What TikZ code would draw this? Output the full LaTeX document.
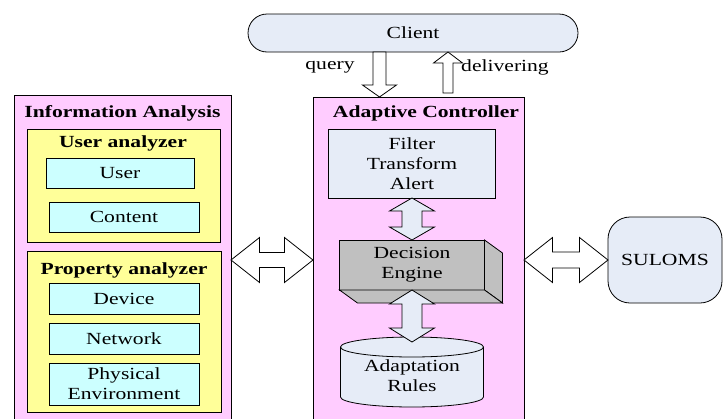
\documentclass[tikz,border=0pt]{standalone}
\usepackage{fontspec}
\setmainfont{Liberation Serif}[FakeStretch=1.27]
\usetikzlibrary{calc}
\definecolor{panelpink}{RGB}{255,204,255}
\definecolor{groupyellow}{RGB}{255,255,153}
\definecolor{fieldcyan}{RGB}{204,255,255}
\definecolor{paleblue}{RGB}{230,236,247}
\definecolor{cubegray}{RGB}{192,192,192}

% block arrows: style, first end, second end, half head, half shaft, head length
\newcommand{\vdarrow}[6]{%
  \draw[#1] (#2) -- ($(#2)+(#4,#6)$) -- ($(#2)+(#5,#6)$) -- ($(#3)+(#5,-#6)$)
    -- ($(#3)+(#4,-#6)$) -- (#3) -- ($(#3)+(-#4,-#6)$) -- ($(#3)+(-#5,-#6)$)
    -- ($(#2)+(-#5,#6)$) -- ($(#2)+(-#4,#6)$) -- cycle;}
\newcommand{\hdarrow}[6]{%
  \draw[#1] (#2) -- ($(#2)+(#6,-#4)$) -- ($(#2)+(#6,-#5)$) -- ($(#3)+(-#6,-#5)$)
    -- ($(#3)+(-#6,-#4)$) -- (#3) -- ($(#3)+(-#6,#4)$) -- ($(#3)+(-#6,#5)$)
    -- ($(#2)+(#6,#5)$) -- ($(#2)+(#6,#4)$) -- cycle;}
% single block arrow: style, tail, tip, half head, half shaft, head length
\newcommand{\sarrow}[6]{%
  \path ($(#3)!#6pt!(#2)$) coordinate (sa-base);
  \draw[#1] ($(#2)+(-#5,0)$) -- ($(#2)+(#5,0)$) -- ($(sa-base)+(#5,0)$)
    -- ($(sa-base)+(#4,0)$) -- (#3) -- ($(sa-base)+(-#4,0)$)
    -- ($(sa-base)+(-#5,0)$) -- cycle;}

\begin{document}
\begin{tikzpicture}[x=1pt, y=-1pt, line width=0.8pt,
    every node/.style={font=\fontsize{17}{20}\selectfont, inner sep=0pt, outer sep=0pt},
    heading/.style={font=\bfseries\fontsize{17}{20}\selectfont},
    panel/.style={draw, fill=panelpink, anchor=north west, minimum height=340},
    analyzer/.style={draw, fill=groupyellow, anchor=north west},
    field/.style={draw, fill=fieldcyan, minimum width=150, minimum height=31, align=center},
    pale/.style={draw, fill=paleblue, align=center},
    cube/.style={draw, fill=cubegray, minimum width=145, minimum height=50, align=center},
    barrow/.style={draw, fill=white, line join=miter}
]
    \useasboundingbox (0,0) rectangle (723,418);
    \clip (0,0) rectangle (723,418);

    % Client
    \node[pale, rounded corners=19, minimum width=330, minimum height=38] (client) at (413,33) {Client};

    % Information Analysis
    \node[panel, minimum width=217] (ia) at (14,95) {};
    \node[heading] (iatitle) at (122.5,113) {Information Analysis};
    \node[analyzer, minimum width=193, minimum height=113] (ua) at (27,129) {};
    \node[heading] (uatitle) at (123,143) {User analyzer};
    \node[field, minimum width=148, minimum height=30] (user) at (120,173) {User};
    \node[field, minimum height=30] (content) at (124,217) {Content};
    \node[analyzer, minimum width=194, minimum height=161] (pa) at (27,251) {};
    \node[heading] (patitle) at (124,270) {Property analyzer};
    \node[field] (device) at (124,298.5) {Device};
    \node[field] (network) at (124,338.5) {Network};
    \node[field, minimum height=42] (physical) at (124,384) {Physical\\Environment};

    % Adaptive Controller
    \node[panel, minimum width=211] (ac) at (313,97) {};
    \node[heading] (actitle) at (426,113) {Adaptive Controller};
    \node[pale, minimum width=167, minimum height=69] (filter) at (412,163.5) {Filter\\Transform\\Alert};
    \node[cube] (engine) at (412,265) {Decision\\Engine};
    \filldraw[fill=cubegray] (engine.north east) -- ++(18,13) -- ++(0,50) -- (engine.south east) -- cycle;
    \filldraw[fill=cubegray] (engine.south west) -- ++(18,13) -- ++(145,0) -- (engine.south east) -- cycle;

    % Adaptation rules drum
    \coordinate (drumtop) at (412,347);
    \coordinate (drumbot) at (412,397);
    \filldraw[fill=paleblue] ($(drumtop)+(-71.5,0)$) -- ($(drumbot)+(-71.5,0)$)
        arc[start angle=180, end angle=0, x radius=71.5, y radius=10]
        -- ($(drumtop)+(71.5,0)$)
        arc[start angle=0, end angle=-180, x radius=71.5, y radius=10] -- cycle;
    \draw ($(drumtop)+(-71.5,0)$) arc[start angle=180, end angle=0, x radius=71.5, y radius=10];
    \node[align=center] (rules) at (412,376) {Adaptation\\Rules};
    \coordinate (rulestop) at (412,342);

    % SULOMS
    \node[pale, rounded corners=22, minimum width=114, minimum height=86] (suloms) at (665,260) {SULOMS};

    % inner arrows
    \vdarrow{barrow, fill=paleblue}{filter.south}{engine.north}{22.5}{10}{13}
    \vdarrow{barrow, fill=paleblue}{engine.south}{rulestop}{22.5}{10}{14}

    % side arrows
    \coordinate (iaport) at (ia.east |- suloms.west);
    \coordinate (acportL) at (ac.west |- suloms.west);
    \coordinate (acportR) at (ac.east |- suloms.west);
    \hdarrow{barrow}{iaport}{acportL}{22.5}{7.5}{28.5}
    \hdarrow{barrow}{acportR}{suloms.west}{22.5}{8}{28.5}

    % client arrows
    \coordinate (qtail) at ($(client.south)+(-33.5,0)$);
    \coordinate (qtip) at (qtail |- ac.north);
    \sarrow{barrow}{qtail}{qtip}{17}{6.5}{12}
    \coordinate (dtip) at ($(client.south)+(35,0)$);
    \coordinate (dtail) at ($(dtip)+(0,41)$);
    \sarrow{barrow}{dtail}{dtip}{14.5}{5}{11}
    \node (querylbl) at (330,67) {query};
    \node (deliverlbl) at (505,67) {delivering};
\end{tikzpicture}
\end{document}
